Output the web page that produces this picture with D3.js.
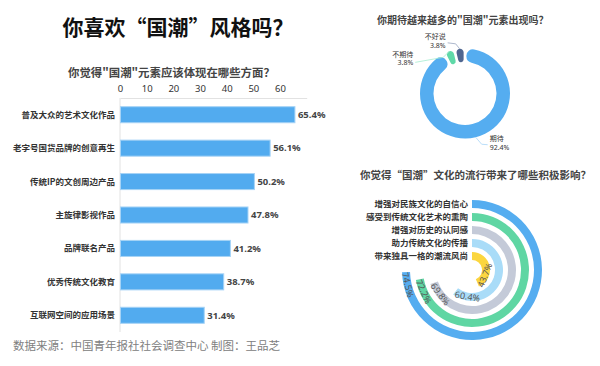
<!DOCTYPE html>
<html lang="zh-CN">
<head>
<meta charset="utf-8">
<script src="https://cdn.jsdelivr.net/npm/d3@7"></script>
<style>
  html, body { margin: 0; padding: 0; background: #fff; }
  svg { display: block; font-family: "Noto Sans CJK SC", "Noto Sans", sans-serif; }
</style>
</head>
<body>
<svg id="chart" width="600" height="366"></svg>
<script>
// ---------- data ----------
const barCategories = ["普及大众的艺术文化作品", "老字号国货品牌的创意再生", "传统IP的文创周边产品", "主旋律影视作品", "品牌联名产品", "优秀传统文化教育", "互联网空间的应用场景"];
const barValues = [65.4, 56.1, 50.2, 47.8, 41.2, 38.7, 31.4];
const barTicks = [0, 10, 20, 30, 40, 50, 60];

const donutCategories = ["期待", "不期待", "不好说"];
const donutValues = [92.4, 3.8, 3.8];

const ringCategories = ["增强对民族文化的自信心", "感受到传统文化艺术的熏陶", "增强对历史的认同感", "助力传统文化的传播", "带来独具一格的潮流风尚"];
const ringValues = [74.5, 72.2, 69.8, 60.4, 43.7];

const titleMain = "你喜欢“国潮”风格吗？";
const titleBar = "你觉得\"国潮\"元素应该体现在哪些方面？";
const titleDonut = "你期待越来越多的\"国潮\"元素出现吗？";
const titleRing = "你觉得“国潮”文化的流行带来了哪些积极影响？";
const sourceText = "数据来源：中国青年报社社会调查中心 制图：王品芝";

// ---------- setup ----------
const svg = d3.select("#chart");

svg.append("text").attr("x", 178).attr("y", 35).attr("text-anchor", "middle")
  .attr("font-size", 21).attr("font-weight", "bold").attr("fill", "#111").text(titleMain);

svg.append("text").attr("x", 68).attr("y", 77)
  .attr("font-size", 11.4).attr("font-weight", "bold").attr("fill", "#444").text(titleBar);

svg.append("text").attr("x", 13).attr("y", 350)
  .attr("font-size", 11.5).attr("fill", "#808080").text(sourceText);

// ---------- bar chart ----------
const x = d3.scaleLinear().domain([0, 70]).range([120, 306.7]);
const y = d3.scaleBand().domain(barCategories).range([98, 332]).paddingInner(0.52).paddingOuter(0.26);

const gBar = svg.append("g");
const xAxis = d3.axisTop(x).tickValues(barTicks).tickSize(0).tickPadding(6);
const gx = gBar.append("g").attr("transform", "translate(0,98)").call(xAxis);
gx.select(".domain").attr("stroke", "#e2e2e2");
gx.selectAll("text").attr("font-size", 9.5).attr("fill", "#333").attr("font-family", "'Noto Sans', sans-serif");
gBar.append("line").attr("x1", x(0)).attr("x2", x(0)).attr("y1", 98).attr("y2", 332).attr("stroke", "#e2e2e2");

gBar.selectAll("rect.bar").data(barValues).join("rect")
  .attr("class", "bar")
  .attr("x", x(0) + 0.5)
  .attr("y", (d, i) => y(barCategories[i]))
  .attr("width", d => x(d) - x(0))
  .attr("height", y.bandwidth())
  .attr("fill", "#52abef")
  .attr("stroke", "#a6d3f6").attr("stroke-width", 1);

gBar.selectAll("text.val").data(barValues).join("text")
  .attr("class", "val")
  .attr("x", d => x(d) + 3.5)
  .attr("y", (d, i) => y(barCategories[i]) + y.bandwidth() / 2)
  .attr("dy", "0.35em")
  .attr("font-size", 9.5).attr("font-weight", "bold").attr("fill", "#444")
  .attr("font-family", "'Noto Sans', sans-serif")
  .text(d => d.toFixed(1) + "%");

gBar.selectAll("text.cat").data(barCategories).join("text")
  .attr("class", "cat")
  .attr("x", 115)
  .attr("y", d => y(d) + y.bandwidth() / 2)
  .attr("dy", "0.35em")
  .attr("text-anchor", "end")
  .attr("font-size", 8.5).attr("font-weight", "bold").attr("fill", "#333")
  .text(d => d);

// ---------- donut ----------
svg.append("text").attr("x", 377).attr("y", 24)
  .attr("font-size", 10).attr("font-weight", "bold").attr("fill", "#444").text(titleDonut);

const dcx = 465, dcy = 93.5, dR = 45, dr = 31.5;
const donutColors = ["#55adf0", "#5fd9a8", "#4f6690"];
const leaderColors = ["#a8d6f8", "#a6ecd0", "#98a6c0"];
const pie = d3.pie().sort(null).value(d => d)(donutValues);
const dArc = d3.arc().innerRadius(dr).outerRadius(dR).padAngle(0.05).cornerRadius(6.5);
const gD = svg.append("g").attr("transform", `translate(${dcx},${dcy})`);
gD.selectAll("path").data(pie).join("path").attr("d", dArc).attr("fill", (d, i) => donutColors[i]);

pie.forEach((p, i) => {
  const a = (p.startAngle + p.endAngle) / 2;
  const sx = dR * Math.sin(a), sy = -dR * Math.cos(a);
  let pts, lx, ly, anchor;
  if (i === 0) { pts = [[sx, sy], [sx + 6, sy + 7], [sx + 12, sy + 7.5]]; lx = sx + 14; ly = sy + 4; anchor = "start"; }
  else if (i === 1) { pts = [[sx, sy], [sx - 6, sy + 6], [sx - 34, sy + 11]]; lx = sx - 36; ly = sy + 5.5; anchor = "end"; }
  else { pts = [[sx, sy], [sx - 4, sy - 5], [sx - 12, sy - 6]]; lx = sx - 14; ly = sy - 9.5; anchor = "end"; }
  gD.append("path").attr("d", d3.line()(pts)).attr("fill", "none").attr("stroke", leaderColors[i]).attr("stroke-width", 0.8);
  gD.append("text").attr("text-anchor", anchor).attr("font-size", 7).attr("fill", "#333")
    .attr("x", lx).attr("y", ly).text(donutCategories[i]);
  gD.append("text").attr("text-anchor", anchor).attr("font-size", 7).attr("fill", "#333")
    .attr("font-family", "'Noto Sans', sans-serif")
    .attr("x", lx).attr("y", ly + 8.5).text(donutValues[i].toFixed(1) + "%");
});

// ---------- radial bars ----------
svg.append("text").attr("x", 360).attr("y", 179)
  .attr("font-size", 10.5).attr("font-weight", "bold").attr("fill", "#444").text(titleRing);

const rcx = 472, rcy = 270;
const ringColors = ["#55adf0", "#5fd6a3", "#c4cad8", "#a9dcf8", "#fbd63f"];
const ang = d3.scaleLinear().domain([0, 100]).range([0, 2 * Math.PI]);
const rad = d3.scaleBand().domain(ringCategories.slice().reverse()).range([10, 70]).paddingInner(5 / 13).paddingOuter(0);
const gR = svg.append("g").attr("transform", `translate(${rcx},${rcy})`);

gR.selectAll("path").data(ringValues).join("path")
  .attr("d", (d, i) => d3.arc()({
    innerRadius: rad(ringCategories[i]),
    outerRadius: rad(ringCategories[i]) + rad.bandwidth(),
    startAngle: 0,
    endAngle: ang(d)
  }))
  .attr("fill", (d, i) => ringColors[i]);

gR.selectAll("text.rcat").data(ringCategories).join("text")
  .attr("class", "rcat")
  .attr("x", -4)
  .attr("y", d => -(rad(d) + rad.bandwidth() / 2))
  .attr("dy", "0.35em")
  .attr("text-anchor", "end")
  .attr("font-size", 8.5).attr("font-weight", "bold").attr("fill", "#333")
  .text(d => d);

ringValues.forEach((v, i) => {
  const rm = rad(ringCategories[i]) + rad.bandwidth() / 2;
  const half = 12;
  let off = (half + 1) / rm;
  if (rm < 20) off = 0.8;
  const a = ang(v) - off;
  const px = rm * Math.sin(a), py = -rm * Math.cos(a);
  const rot = a * 180 / Math.PI + 180;
  gR.append("text")
    .attr("transform", `translate(${px},${py}) rotate(${rot})`)
    .attr("text-anchor", "middle").attr("dy", "0.35em")
    .attr("font-size", 9).attr("fill", "#555")
    .attr("font-family", "'Noto Sans', sans-serif")
    .text(v.toFixed(1) + "%");
});
</script>
</body>
</html>
